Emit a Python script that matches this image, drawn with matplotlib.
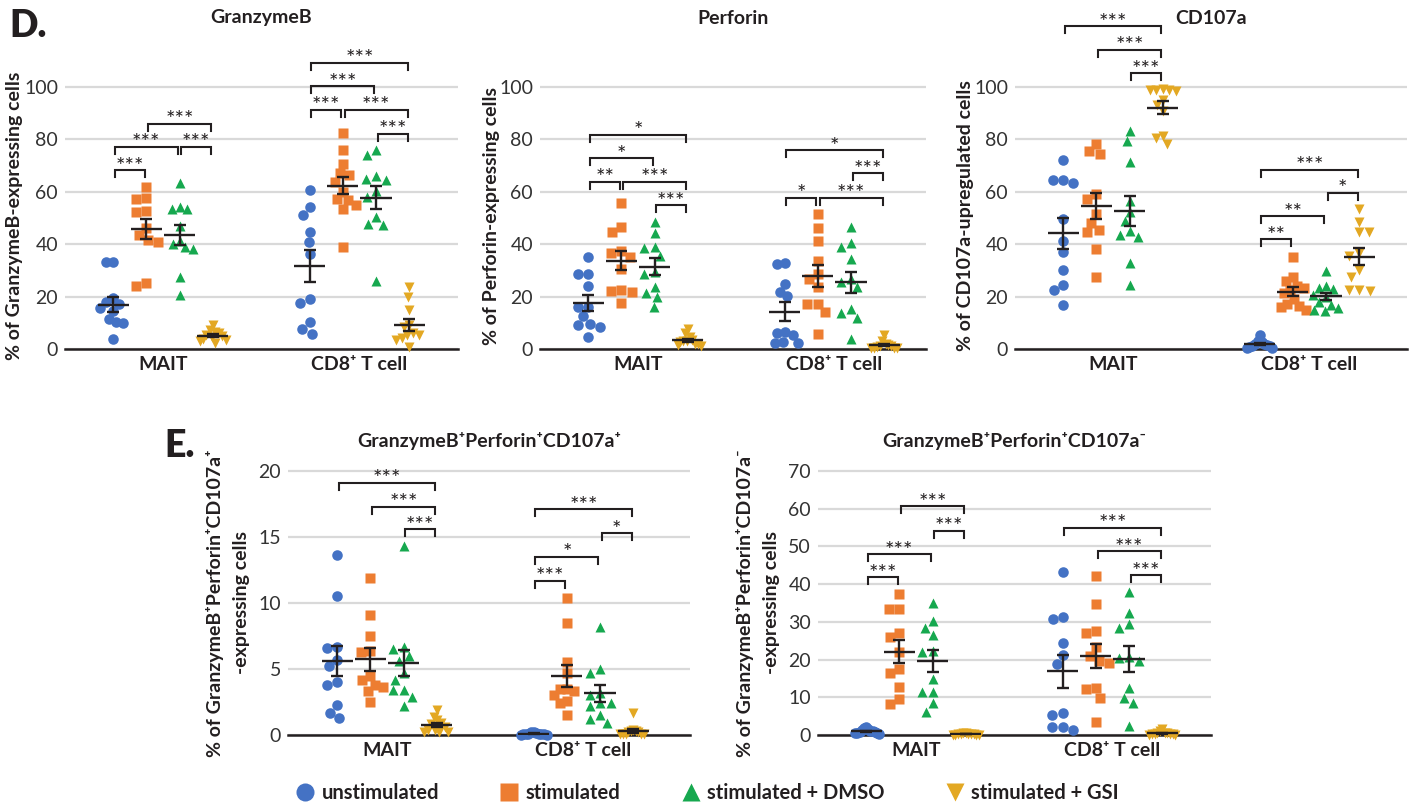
import numpy as np
import matplotlib
matplotlib.use("Agg")
import matplotlib.pyplot as plt
from matplotlib.lines import Line2D

plt.rcParams['font.family'] = ['Lato', 'DejaVu Sans']

# ---------------- data ----------------
groups = ['unstimulated', 'stimulated', 'stimulated + DMSO', 'stimulated + GSI']
cell_types = ['MAIT', 'CD8\u207a T cell']

# GranzymeB (% expressing)
gzmb_mait = [
    [33.3, 33.3, 19.3, 17.8, 17.2, 15.5, 14.5, 11.3, 10.4, 10.0, 3.7],
    [61.9, 57.1, 57.8, 52.6, 52.1, 46.3, 41.6, 43.5, 40.7, 24.0, 25.3],
    [63.2, 54.3, 53.4, 53.6, 46.9, 39.9, 38.0, 38.8, 41.3, 27.6, 20.6],
    [9.1, 7.2, 6.5, 6.0, 5.5, 5.0, 4.5, 4.0, 3.5, 3.0, 2.2],
]
gzmb_cd8 = [
    [60.6, 54.3, 51.1, 44.7, 40.7, 36.1, 18.9, 17.7, 10.4, 7.5, 5.6],
    [82.5, 76.1, 70.8, 67.0, 66.5, 63.8, 57.2, 56.8, 54.9, 53.4, 38.8, 60.0],
    [75.9, 74.0, 66.1, 64.7, 64.4, 60.4, 58.1, 50.4, 47.9, 47.3, 25.9],
    [23.8, 19.9, 14.9, 9.1, 8.5, 5.5, 6.0, 5.3, 4.1, 3.4, 0.9],
]
# Perforin
perf_mait = [
    [35.2, 28.8, 28.8, 24.1, 16.1, 16.1, 12.6, 9.5, 9.1, 8.3, 4.4],
    [55.9, 44.5, 46.6, 37.5, 36.8, 35.2, 30.4, 22.7, 21.9, 22.2, 17.7],
    [48.5, 44.1, 38.4, 39.0, 35.6, 29.5, 28.8, 23.8, 21.5, 19.9, 16.1],
    [7.5, 6.0, 4.5, 3.5, 3.0, 3.0, 2.5, 2.0, 2.0, 1.5, 1.0],
]
perf_cd8 = [
    [32.9, 32.4, 24.8, 21.6, 20.3, 6.4, 6.2, 5.3, 2.2, 2.5, 2.2],
    [51.7, 46.0, 41.3, 33.7, 28.8, 26.9, 23.8, 17.2, 17.2, 14.2, 5.7],
    [46.4, 40.3, 39.0, 34.2, 25.7, 26.9, 23.5, 13.9, 15.1, 11.7, 3.8],
    [5.5, 3.0, 2.0, 1.5, 1.2, 1.0, 0.8, 0.5, 0.5, 0.3, 0.2],
]
# CD107a
cd107_mait = [
    [72.0, 64.4, 64.4, 63.2, 49.8, 41.3, 37.1, 30.1, 24.4, 22.5, 16.8],
    [78.4, 74.6, 75.6, 59.1, 57.4, 51.7, 48.2, 44.5, 45.4, 38.0, 27.3],
    [83.2, 79.3, 71.4, 56.5, 52.4, 48.8, 45.0, 42.8, 43.5, 32.7, 24.4],
    [99.4, 99.0, 99.0, 98.7, 98.5, 95.0, 93.0, 91.0, 81.2, 80.7, 78.4],
]
cd107_cd8 = [
    [5.5, 3.0, 2.5, 2.0, 1.8, 1.5, 1.2, 1.0, 0.8, 0.5, 0.5],
    [35.2, 27.3, 25.9, 24.0, 23.1, 22.5, 21.2, 19.0, 17.2, 16.4, 16.0, 14.9],
    [29.9, 24.0, 23.4, 23.0, 20.6, 19.9, 18.0, 16.8, 15.5, 14.6, 15.0],
    [53.6, 48.5, 44.5, 44.5, 36.5, 35.4, 30.1, 27.6, 22.5, 22.7, 22.2],
]
# GranzymeB+Perforin+CD107a+
tripos_mait = [
    [13.6, 10.5, 6.6, 6.7, 5.7, 5.2, 4.0, 3.8, 2.3, 1.7, 1.3],
    [11.9, 9.1, 7.5, 6.4, 6.3, 4.5, 4.2, 3.8, 3.6, 3.3, 2.5],
    [14.3, 6.7, 6.5, 6.0, 5.6, 4.7, 4.2, 3.4, 3.4, 2.9, 2.2],
    [1.9, 1.4, 1.1, 0.9, 0.8, 0.6, 0.4, 0.25, 0.25, 0.2, 0.35],
]
tripos_cd8 = [
    [0.25, 0.2, 0.15, 0.1, 0.1, 0.08, 0.05, 0.05, 0.03, 0.02, 0.1],
    [10.4, 8.5, 5.5, 4.7, 3.5, 3.5, 3.3, 3.0, 2.6, 2.4, 1.5],
    [8.2, 5.0, 4.7, 3.2, 3.0, 2.4, 2.4, 2.2, 1.5, 1.2, 0.9],
    [1.7, 0.4, 0.3, 0.3, 0.2, 0.2, 0.1, 0.1, 0.05, 0.05, 0.05],
]
# GranzymeB+Perforin+CD107a-
dblpos_mait = [
    [2.0, 1.5, 1.0, 1.0, 0.5, 0.8, 1.2, 0.3, 0.6, 1.8, 0.9, 0.4],
    [37.3, 33.3, 33.3, 27.1, 25.9, 21.9, 17.4, 16.4, 12.6, 9.5, 8.1],
    [34.9, 30.1, 28.3, 26.5, 22.4, 22.1, 14.8, 11.5, 11.5, 8.4, 6.2],
    [0.3, 0.2, 0.1, 0.0, 0.2, 0.4, 0.1, 0.3, 0.2, 0.1, 0.5],
]
dblpos_cd8 = [
    [43.1, 31.4, 30.7, 24.5, 21.2, 18.8, 5.9, 5.3, 2.2, 2.0, 1.3],
    [42.2, 34.7, 27.7, 27.0, 23.3, 21.0, 19.2, 19.5, 12.4, 12.1, 9.9, 3.5],
    [38.0, 32.4, 29.4, 28.5, 20.8, 20.3, 19.6, 12.4, 9.9, 8.4, 2.4],
    [1.5, 1.0, 0.5, 0.3, 0.2, 0.1, 0.4, 0.2, 0.6, 0.1, 0.3],
]

# significance brackets: (group a, group b, height, label); groups 0-3 MAIT, 4-7 CD8
br_gzmb = [(0, 1, 68.2, '***'), (0, 2, 77.1, '***'), (2, 3, 77.1, '***'), (1, 3, 86.0, '***'),
           (4, 5, 91.4, '***'), (5, 7, 91.4, '***'), (4, 6, 100.3, '***'), (4, 7, 109.3, '***'),
           (6, 7, 82.2, '***')]
br_perf = [(0, 1, 63.8, '**'), (1, 3, 63.8, '***'), (2, 3, 54.9, '***'), (0, 2, 72.9, '*'), (0, 3, 81.8, '*'),
           (4, 5, 57.8, '*'), (5, 7, 57.8, '***'), (6, 7, 67.0, '***'), (4, 7, 75.9, '*')]
br_cd107 = [(2, 3, 105.3, '***'), (1, 3, 114.2, '***'), (0, 3, 123.1, '***'),
            (4, 5, 41.8, '**'), (4, 6, 50.7, '**'), (6, 7, 59.7, '*'), (4, 7, 68.5, '***')]
br_tripos = [(2, 3, 15.6, '***'), (1, 3, 17.3, '***'), (0, 3, 19.1, '***'),
             (4, 5, 11.7, '***'), (4, 6, 13.5, '*'), (6, 7, 15.3, '*'), (4, 7, 17.1, '***')]
br_dblpos = [(0, 1, 41.8, '***'), (0, 2, 47.9, '***'), (2, 3, 54.2, '***'), (1, 3, 60.6, '***'),
             (6, 7, 42.4, '***'), (5, 7, 48.7, '***'), (4, 7, 54.9, '***')]

# ---------------- style ----------------
colors = ['#4472C4', '#ED7D31', '#16A84F', '#E3A823']
markers = ['o', 's', '^', 'v']
msizes = [7.6, 6.8, 7.6, 7.6]
dark = '#231F20'
W, H = 1415, 807
CD8_OFFSET = 5.92
PPX = 33.2

fig = plt.figure(figsize=(W / 100, H / 100), dpi=100)


def swarm(vals, ppx, ppy, d=10.5, limit=13.0):
    vals = np.asarray(vals, float)
    order = np.argsort(-vals)
    placed = []
    offs = np.zeros(len(vals))
    for i in order:
        y = vals[i] * ppy
        cands = [0.0]
        for (px, py) in placed:
            dy = abs(py - y)
            if dy < d:
                dx = np.sqrt(d * d - dy * dy)
                cands += [px - dx, px + dx]
        cands = sorted(cands, key=lambda c: (abs(c), c))
        for c in cands:
            if all((c - px) ** 2 + (y - py) ** 2 >= d * d - 1e-6 for px, py in placed):
                offs[i] = c
                placed.append((c, y))
                break
    mx = np.abs(offs).max()
    if mx > limit:
        offs = offs * limit / mx
    return offs / ppx


def panel(left, right, bottom, ppy, ymax, x0, data, yticks, brackets, title, title_y):
    top = bottom - ppy * ymax
    ax = fig.add_axes([left / W, 1 - bottom / H, (right - left) / W, (bottom - top) / H])
    x1 = x0 + (right - left) / PPX
    ax.set_xlim(x0, x1)
    ax.set_ylim(0, ymax)
    for c, ct in enumerate(data):
        for g, vals in enumerate(ct):
            xc = c * CD8_OFFSET + g
            offs = swarm(vals, PPX, ppy)
            ax.plot(xc + offs, vals, ls='none', marker=markers[g], ms=msizes[g], color=colors[g],
                    mec='none', clip_on=False, zorder=3)
            v = np.asarray(vals)
            m = v.mean()
            se = v.std(ddof=1) / np.sqrt(len(v))
            ax.hlines(m, xc - 0.47, xc + 0.47, color=dark, lw=1.7, zorder=5)
            ax.errorbar(xc, m, yerr=se, fmt='none', ecolor=dark, elinewidth=1.7, capsize=4.4,
                        capthick=1.7, zorder=5)
    drop = 7 / ppy
    for a, b, y, lab in brackets:
        xa = (a // 4) * CD8_OFFSET + a % 4 + 0.05
        xb = (b // 4) * CD8_OFFSET + b % 4 - 0.05
        ax.plot([xa, xa, xb, xb], [y - drop, y, y, y - drop], color=dark, lw=1.5, clip_on=False,
                solid_joinstyle='miter', zorder=4)
        ax.annotate(lab, xy=((xa + xb) / 2, y), xytext=(0, -1.8), textcoords='offset points',
                    ha='center', va='baseline', fontsize=16, color=dark)
    ax.set_yticks(yticks)
    ax.set_yticklabels([str(t) for t in yticks])
    ax.tick_params(axis='y', length=0, pad=5, labelsize=14, labelcolor='#333333')
    ax.set_xticks([1.5, CD8_OFFSET + 1.5])
    ax.set_xticklabels(cell_types, fontweight='bold', fontsize=14, color=dark)
    ax.tick_params(axis='x', length=0, pad=5)
    ax.grid(axis='y', color='#d9d9d9', lw=1.6)
    ax.grid(axis='x', visible=False)
    ax.set_axisbelow(True)
    for s in ['left', 'right', 'top']:
        ax.spines[s].set_visible(False)
    ax.spines['bottom'].set_color(dark)
    ax.spines['bottom'].set_linewidth(1.8)
    ax.patch.set_alpha(0)
    fig.text((left + right) / 2 / W, 1 - title_y / H, title, ha='center', va='center',
             fontsize=14, fontweight='bold', color=dark)
    return ax


dticks = [0, 20, 40, 60, 80, 100]
panel(65, 458, 349, 2.62, 130, -1.45, [gzmb_mait, gzmb_cd8], dticks, br_gzmb, 'GranzymeB', 18)
panel(540, 926, 349, 2.62, 130, -1.45, [perf_mait, perf_cd8], dticks, br_perf, 'Perforin', 18)
panel(1015, 1407, 349, 2.62, 130, -1.45, [cd107_mait, cd107_cd8], dticks, br_cd107, 'CD107a', 18)
panel(288, 690, 735, 13.2, 22, -1.48, [tripos_mait, tripos_cd8], [0, 5, 10, 15, 20], br_tripos,
      'GranzymeB\u207aPerforin\u207aCD107a\u207a', 441)
panel(818, 1211, 735, 3.771, 75, -1.45, [dblpos_mait, dblpos_cd8], [0, 10, 20, 30, 40, 50, 60, 70],
      br_dblpos, 'GranzymeB\u207aPerforin\u207aCD107a\u207b', 441)


def ylab(x, y, s):
    fig.text(x / W, 1 - y / H, s, rotation=90, ha='center', va='center', fontsize=14,
             fontweight='bold', color=dark)


ylab(15, 216, '% of GranzymeB-expressing cells')
ylab(492, 216, '% of Perforin-expressing cells')
ylab(965, 216, '% of CD107a-upregulated cells')
ylab(215, 603, '% of GranzymeB\u207aPerforin\u207aCD107a\u207a')
ylab(241, 603, '-expressing cells')
ylab(745, 603, '% of GranzymeB\u207aPerforin\u207aCD107a\u207b')
ylab(771, 603, '-expressing cells')

# panel letters
fig.text(9 / W, 1 - 37 / H, 'D.', fontsize=27, fontweight='heavy', color=dark, va='baseline')
fig.text(164 / W, 1 - 457 / H, 'E.', fontsize=27, fontweight='heavy', color=dark, va='baseline')

# legend
handles = [Line2D([], [], ls='none', marker=markers[g], color=colors[g], mec='none', ms=13)
           for g in range(4)]
fig.legend(handles, groups, loc='center', bbox_to_anchor=(707 / W, 1 - 793 / H), ncol=4,
           frameon=False, prop={'weight': 'bold', 'size': 14.5}, handlelength=1.0,
           handletextpad=0.3, columnspacing=3.0, labelcolor=dark)

fig.savefig('out.png', dpi=100)
